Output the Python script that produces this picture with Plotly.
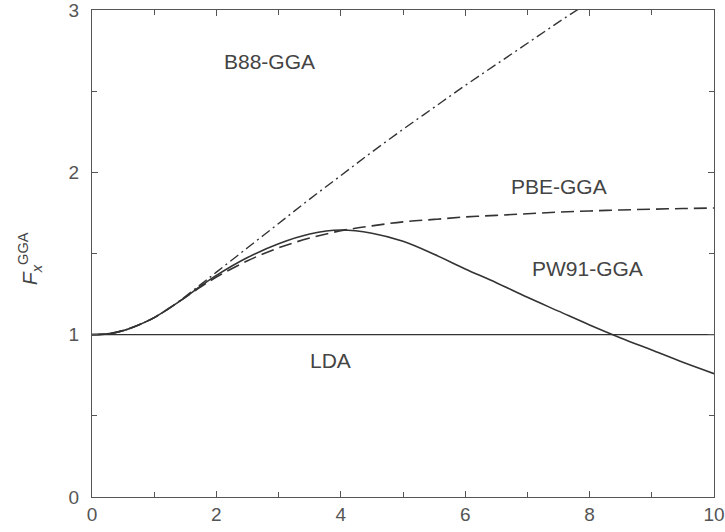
import plotly.graph_objects as go

# Exchange enhancement factor versus reduced density gradient
s_vals = [0, 0.25, 0.5, 0.75, 1.0, 1.25, 1.5, 1.75, 2.0, 2.5, 3.0, 3.5, 4.0, 4.5, 5.0,
          5.5, 6.0, 6.5, 7.0, 7.5, 8.0, 8.5, 9.0, 9.5, 10.0]

pw91 = [1.0, 1.005, 1.025, 1.06, 1.105, 1.165, 1.23, 1.30, 1.365, 1.475, 1.56, 1.62,
        1.645, 1.625, 1.575, 1.495, 1.405, 1.32, 1.23, 1.145, 1.06, 0.98, 0.905, 0.83, 0.76]

pbe = [1.0, 1.005, 1.025, 1.06, 1.105, 1.165, 1.23, 1.295, 1.355, 1.455, 1.535, 1.595,
       1.64, 1.67, 1.695, 1.71, 1.725, 1.735, 1.745, 1.755, 1.762, 1.768, 1.773, 1.777, 1.78]

b88_s = [0, 0.25, 0.5, 0.75, 1.0, 1.25, 1.5, 1.75, 2.0, 2.5, 3.0, 3.5, 4.0, 4.5, 5.0,
         5.5, 6.0, 6.5, 7.0, 7.5, 8.0]
b88 = [1.0, 1.005, 1.025, 1.06, 1.105, 1.165, 1.235, 1.31, 1.385, 1.535, 1.685, 1.835,
       1.98, 2.125, 2.265, 2.40, 2.535, 2.665, 2.795, 2.925, 3.05]

lda_s = [0, 10]
lda = [1.0, 1.0]

curve_labels = ["B88-GGA", "PBE-GGA", "PW91-GGA", "LDA"]
label_x = [2.86, 7.5, 7.96, 3.84]
label_y = [2.68, 1.91, 1.41, 0.84]

x_ticks = [0, 2, 4, 6, 8, 10]
y_ticks = [0, 1, 2, 3]

ink = "#333333"
font_family = "Liberation Sans, Arial"
fig = go.Figure()
fig.add_trace(go.Scatter(x=lda_s, y=lda, mode="lines",
                         line=dict(color=ink, width=1.4)))
fig.add_trace(go.Scatter(x=b88_s, y=b88, mode="lines", line_shape="spline",
                         line=dict(color=ink, width=1.4, dash="10px,4px,2px,4px")))
fig.add_trace(go.Scatter(x=s_vals, y=pbe, mode="lines", line_shape="spline",
                         line=dict(color=ink, width=1.6, dash="13px,6px")))
fig.add_trace(go.Scatter(x=s_vals, y=pw91, mode="lines", line_shape="spline",
                         line=dict(color=ink, width=1.6)))

for txt, xx, yy in zip(curve_labels, label_x, label_y):
    fig.add_annotation(x=xx, y=yy, text=txt, showarrow=False,
                       font=dict(family=font_family, size=21, color="#444444"))

fig.add_annotation(xref="paper", yref="paper", x=-0.1, y=0.49, xanchor="center",
                   text="<i>F</i><sub><i>x</i></sub><sup>GGA</sup>", textangle=-90,
                   showarrow=False,
                   font=dict(family=font_family, size=21, color="#444444"))

axis_common = dict(showgrid=False, zeroline=False, showline=True, linecolor="#555555",
                   linewidth=1.2, mirror="ticks", ticks="inside", ticklen=6,
                   tickcolor="#555555", automargin=False, ticklabeloverflow="allow",
                   tickfont=dict(family=font_family, size=19, color="#555555"))

fig.update_xaxes(range=[0, 10], tickvals=x_ticks,
                 minor=dict(ticks="inside", dtick=1, ticklen=5, tickcolor="#555555"),
                 **axis_common)
fig.update_yaxes(range=[0, 3], tickvals=y_ticks, ticklabelstandoff=8,
                 minor=dict(ticks="inside", dtick=0.5, ticklen=5, tickcolor="#555555"),
                 **axis_common)

fig.update_layout(width=725, height=532, showlegend=False,
                  margin=dict(l=92, r=11, t=10, b=35, autoexpand=False),
                  plot_bgcolor="white", paper_bgcolor="white")

fig.write_html("out.html")
